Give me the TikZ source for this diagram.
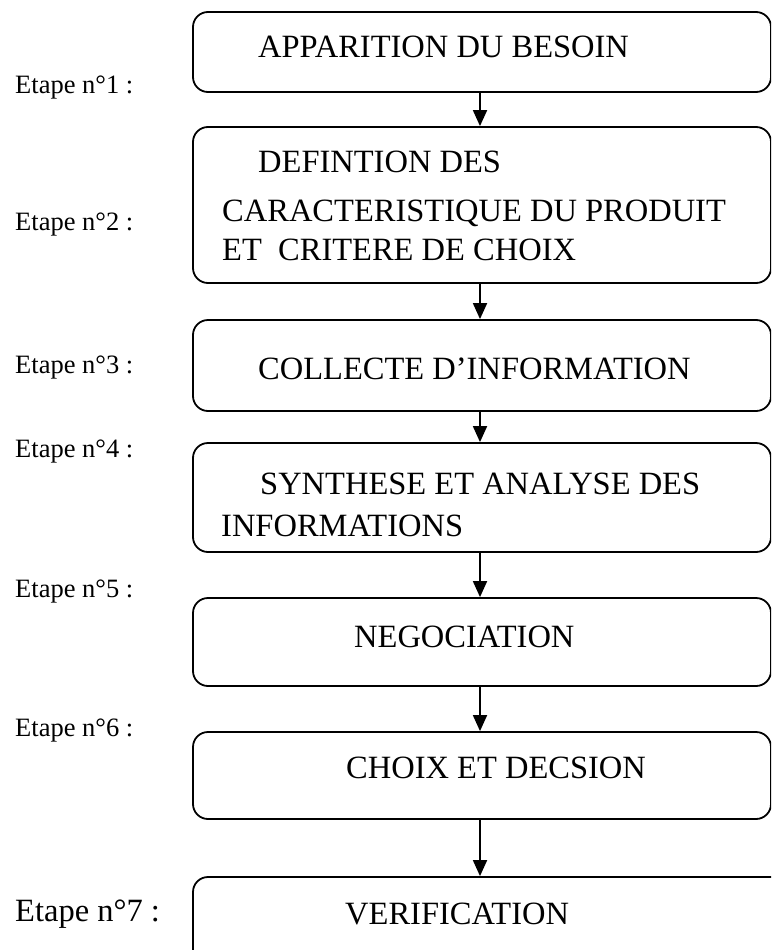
\documentclass[tikz,border=0pt]{standalone}
\usepackage{fontspec}
\setmainfont{Liberation Serif}
\usetikzlibrary{arrows.meta}
\begin{document}
\begin{tikzpicture}[x=1pt,y=-1pt,
  stage/.style={draw,line width=1.8pt,rounded corners=15pt,inner sep=0pt},
  boxtext/.style={anchor=base west,inner sep=0pt,font=\fontsize{32.5}{32.5}\selectfont},
  steplabel/.style={anchor=base west,inner sep=0pt,font=\fontsize{26.5}{26.5}\selectfont},
  flow/.style={line width=1.8pt,-{Triangle[width=14pt,length=16pt]}}]
\useasboundingbox (0,0) rectangle (771,950);
\clip (0,0) rectangle (771,950);
% the stage boxes (x from 193 to 771)
\node[stage,minimum width=578pt,minimum height=80pt]  (b1) at (482,52)  {};
\node[stage,minimum width=578pt,minimum height=156pt] (b2) at (482,205) {};
\node[stage,minimum width=578pt,minimum height=91pt]  (b3) at (482,365.5) {};
\node[stage,minimum width=578pt,minimum height=109pt] (b4) at (482,497.5) {};
\node[stage,minimum width=578pt,minimum height=88pt]  (b5) at (482,642) {};
\node[stage,minimum width=578pt,minimum height=87pt]  (b6) at (482,775.5) {};
\node[stage,minimum width=620pt,minimum height=113pt] (b7) at (503,933.5) {};
% texts inside the boxes
\node[boxtext] (t1)  at (258,58)  {APPARITION DU BESOIN};
\node[boxtext] (t2a) at (258,172) {DEFINTION DES};
\node[boxtext] (t2b) at (222,221) {CARACTERISTIQUE DU PRODUIT};
\node[boxtext] (t2c) at (222,260) {ET\ \ CRITERE DE CHOIX};
\node[boxtext] (t3)  at (258,379) {COLLECTE D’INFORMATION};
\node[boxtext] (t4a) at (260,494) {SYNTHESE ET ANALYSE DES};
\node[boxtext] (t4b) at (221,536) {INFORMATIONS};
\node[boxtext] (t5)  at (354,647) {NEGOCIATION};
\node[boxtext] (t6)  at (346,778) {CHOIX ET DECSION};
\node[boxtext] (t7)  at (345,924) {VERIFICATION};
% step labels
\node[steplabel] (e1) at (15,93)  {Etape n°1 :};
\node[steplabel] (e2) at (15,230) {Etape n°2 :};
\node[steplabel] (e3) at (15,373) {Etape n°3 :};
\node[steplabel] (e4) at (15,457) {Etape n°4 :};
\node[steplabel] (e5) at (15,597) {Etape n°5 :};
\node[steplabel] (e6) at (15,736) {Etape n°6 :};
\node[steplabel,font=\fontsize{32.5}{32.5}\selectfont] (e7) at (15,921) {Etape n°7 :};
% connectors
\coordinate (ax) at (480,0);
\draw[flow] (b1.south -| ax) -- (b2.north -| ax);
\draw[flow] (b2.south -| ax) -- (b3.north -| ax);
\draw[flow] (b3.south -| ax) -- (b4.north -| ax);
\draw[flow] (b4.south -| ax) -- (b5.north -| ax);
\draw[flow] (b5.south -| ax) -- (b6.north -| ax);
\draw[flow] (b6.south -| ax) -- (b7.north -| ax);
\end{tikzpicture}
\end{document}
